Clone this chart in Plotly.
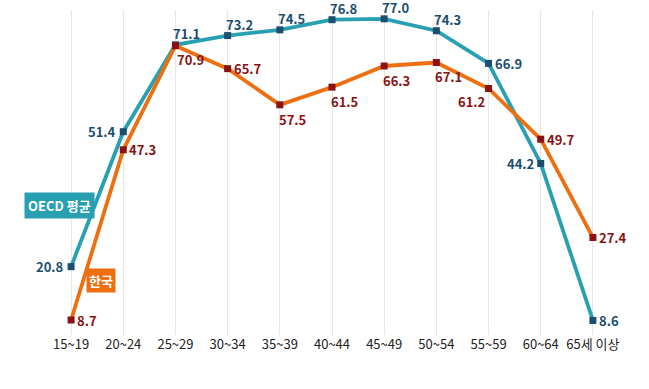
import plotly.graph_objects as go

categories = ["15~19", "20~24", "25~29", "30~34", "35~39", "40~44", "45~49", "50~54", "55~59", "60~64", "65세 이상"]
oecd = [20.8, 51.4, 71.1, 73.2, 74.5, 76.8, 77.0, 74.3, 66.9, 44.2, 8.6]
korea = [8.7, 47.3, 70.9, 65.7, 57.5, 61.5, 66.3, 67.1, 61.2, 49.7, 27.4]

oecd_pos = ["left", "left", "top", "top", "top", "top", "top", "top", "right", "left", "right"]
korea_pos = ["right", "right", "bottomr", "right", "bottom", "bottom", "bottom", "bottom", "bottoml", "right", "right"]

FONT = "Noto Sans CJK KR"
TEAL = "#28A0B2"
ORANGE = "#EE6F10"
OECD_DARK = "#1B4E6F"
KOREA_DARK = "#8A1212"

fig = go.Figure()
fig.add_trace(go.Scatter(x=categories, y=oecd, mode="lines+markers",
                         line=dict(color=TEAL, width=3.8),
                         marker=dict(symbol="square", size=7, color=OECD_DARK),
                         hoverinfo="skip"))
fig.add_trace(go.Scatter(x=categories, y=korea, mode="lines+markers",
                         line=dict(color=ORANGE, width=3.8),
                         marker=dict(symbol="square", size=7, color=KOREA_DARK),
                         hoverinfo="skip"))

def add_labels(vals, poss, color):
    for c, v, p in zip(categories, vals, poss):
        kw = dict(x=c, y=v, text=f"<b>{v:.1f}</b>", showarrow=False,
                  font=dict(family=FONT, size=13, color=color))
        if p == "left":
            kw.update(xanchor="right", yanchor="middle", xshift=-5)
        elif p == "right":
            kw.update(xanchor="left", yanchor="middle", xshift=4)
        elif p == "top":
            kw.update(xanchor="left", yanchor="bottom", xshift=-4, yshift=0)
        elif p == "bottom":
            kw.update(xanchor="left", yanchor="top", xshift=-3, yshift=-3)
        elif p == "bottomr":
            kw.update(xanchor="left", yanchor="top", xshift=0, yshift=-2)
        elif p == "bottoml":
            kw.update(xanchor="right", yanchor="top", xshift=-2, yshift=-2)
        fig.add_annotation(**kw)

add_labels(oecd, oecd_pos, OECD_DARK)
add_labels(korea, korea_pos, KOREA_DARK)

fig.add_annotation(xref="paper", yref="paper", x=0.0253, y=0.398, text="<b>OECD 평균</b>",
                   xanchor="center", yanchor="middle",
                   showarrow=False, bgcolor=TEAL, borderpad=3,
                   font=dict(family=FONT, size=13, color="white"))
fig.add_annotation(xref="paper", yref="paper", x=0.0984, y=0.169, text="<b>한국</b>",
                   xanchor="center", yanchor="middle",
                   showarrow=False, bgcolor=ORANGE, borderpad=2,
                   font=dict(family=FONT, size=13, color="white"))

fig.update_layout(
    width=649, height=389,
    margin=dict(l=45, r=30, t=10, b=54),
    paper_bgcolor="white", plot_bgcolor="white",
    showlegend=False,
    font=dict(family=FONT),
    xaxis=dict(type="category", range=[-0.5, 10.5], showgrid=True, gridcolor="#E6E6E6", gridwidth=1,
               zeroline=False, showline=False, ticks="", automargin=False,
               tickfont=dict(family=FONT, size=13, color="#222"), fixedrange=True),
    yaxis=dict(range=[5.3, 79.0], showgrid=False, zeroline=False, showline=False,
               showticklabels=False, fixedrange=True, automargin=False),
)

fig.write_html("out.html", config={"displayModeBar": False},
               post_script="document.body.style.margin='0';document.body.style.overflow='hidden';")
